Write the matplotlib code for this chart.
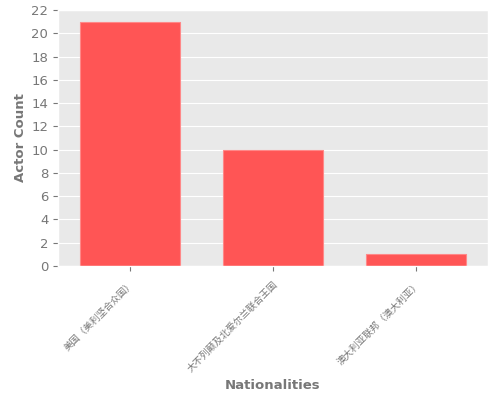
import matplotlib
matplotlib.use('Agg')
import numpy as np
from matplotlib import pyplot as plt

plt.style.use('ggplot')

nationalities = ['美国（美利坚合众国）', '大不列颠及北爱尔兰联合王国', '澳大利亚联邦（澳大利亚）']
actor_counts = [21, 10, 1]

fig = plt.figure(figsize=(5, 4), dpi=100)
ax = fig.add_axes([0.116, 0.335, 0.86, 0.64])

x = np.arange(len(nationalities))
ax.bar(x, actor_counts, width=0.7, color='#ff5555', edgecolor='#ff8888', linewidth=0.8)
ax.set_xlim(-0.5, len(nationalities) - 0.5)
ax.set_ylim(0, 22)
ax.set_yticks(np.arange(0, 23, 2))
ax.set_xticks(x)
ax.set_xticklabels(nationalities, rotation=45, ha='right', rotation_mode='anchor',
                   fontsize=6.8, family=['Noto Sans CJK SC', 'DejaVu Sans'])
ax.tick_params(axis='y', labelsize=9.5)
ax.tick_params(axis='x', pad=6)
ax.tick_params(colors='#777777', labelcolor='#777777')
ax.set_facecolor('#e9e9e9')
ax.grid(axis='x', visible=False)
ax.set_ylabel('Actor Count', fontsize=9.5, color='#777777', fontweight='bold')
ax.set_xlabel('Nationalities', fontsize=9.5, color='#777777', fontweight='bold')
ax.yaxis.set_label_coords(-0.072, 0.5)
ax.xaxis.set_label_coords(0.5, -0.44)

fig.savefig('out.png', dpi=100)
